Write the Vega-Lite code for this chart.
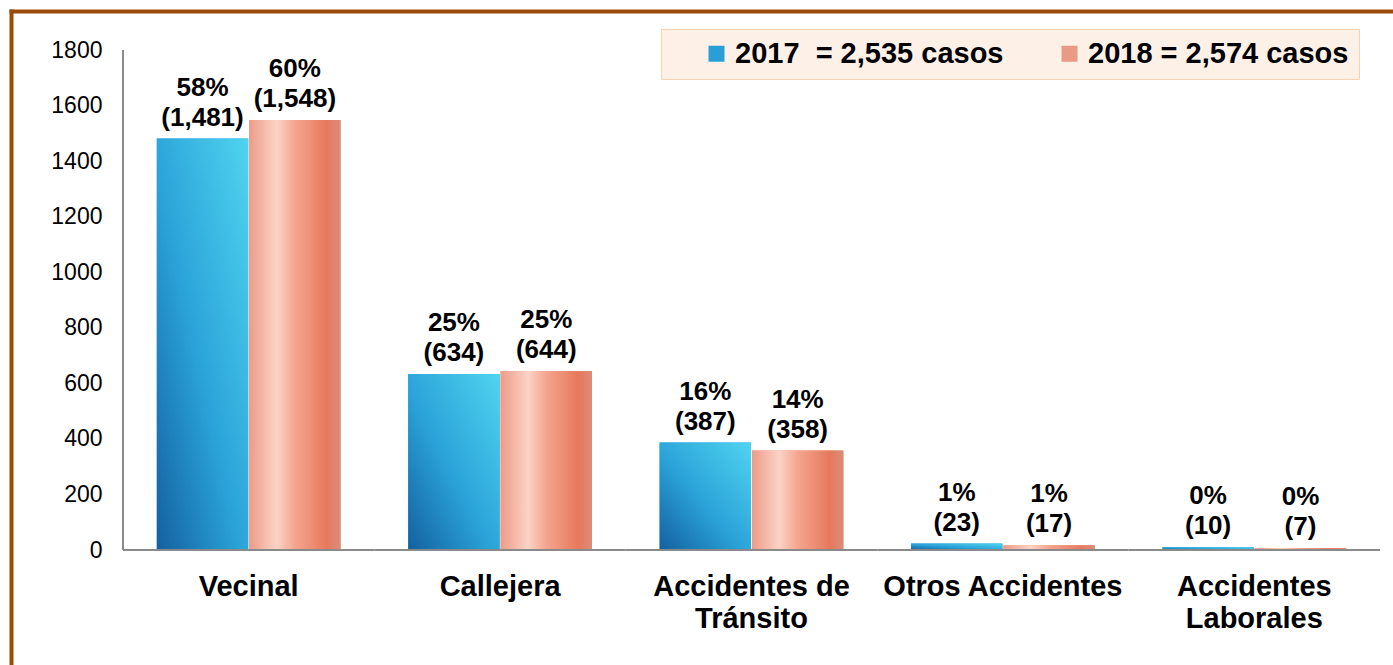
{
  "$schema": "https://vega.github.io/schema/vega-lite/v6.json",
  "width": 1382,
  "height": 654,
  "autosize": {"type": "none"},
  "padding": {"left": 11, "top": 11, "right": 0, "bottom": 0},
  "background": "white",
  "config": {"view": {"stroke": null}, "font": "Liberation Sans"},
  "data": {"values": [
    {"cat": "Vecinal", "year": "2017", "value": 1481, "label": "58%\n(1,481)"},
    {"cat": "Vecinal", "year": "2018", "value": 1548, "label": "60%\n(1,548)"},
    {"cat": "Callejera", "year": "2017", "value": 634, "label": "25%\n(634)"},
    {"cat": "Callejera", "year": "2018", "value": 644, "label": "25%\n(644)"},
    {"cat": "Accidentes de Tránsito", "year": "2017", "value": 387, "label": "16%\n(387)"},
    {"cat": "Accidentes de Tránsito", "year": "2018", "value": 358, "label": "14%\n(358)"},
    {"cat": "Otros Accidentes", "year": "2017", "value": 23, "label": "1%\n(23)"},
    {"cat": "Otros Accidentes", "year": "2018", "value": 17, "label": "1%\n(17)"},
    {"cat": "Accidentes Laborales", "year": "2017", "value": 10, "label": "0%\n(10)"},
    {"cat": "Accidentes Laborales", "year": "2018", "value": 7, "label": "0%\n(7)"}
  ]},
  "layer": [
    {
      "mark": {"type": "bar"},
      "encoding": {
        "x": {"field": "cat", "type": "nominal", "sort": ["Vecinal", "Callejera", "Accidentes de Tránsito", "Otros Accidentes", "Accidentes Laborales"],
              "scale": {"paddingInner": 0, "paddingOuter": 0.2486, "align": 0.896},
              "axis": {"orient": "bottom", "offset": -115, "domain": false, "ticks": false, "grid": false, "title": null, "labelAngle": 0,
                       "labelFont": "Liberation Sans", "labelFontSize": 29, "labelFontWeight": "bold", "labelColor": "#000000", "labelPadding": 22, "labelLineHeight": 32, "labelLimit": 400,
                       "labelExpr": "datum.label == 'Accidentes de Tránsito' ? ['Accidentes de', 'Tránsito'] : datum.label == 'Accidentes Laborales' ? ['Accidentes', 'Laborales'] : datum.label"}},
        "xOffset": {"field": "year", "type": "nominal", "scale": {"domain": ["2017", "2018"], "paddingInner": 0.01, "paddingOuter": 0.366}},
        "y": {"field": "value", "type": "quantitative", "scale": {"domain": [-414, 1940.4], "nice": false, "zero": false},
              "axis": {"orient": "left", "offset": -112, "values": [0, 200, 400, 600, 800, 1000, 1200, 1400, 1600, 1800], "format": "d", "domain": false, "ticks": false, "grid": false, "title": null,
                       "labelFont": "Liberation Sans", "labelFontSize": 23, "labelColor": "#000000", "labelPadding": 21}},
        "y2": {"datum": 0},
        "color": {"field": "year", "type": "nominal", "scale": {"domain": ["2017", "2018"], "range": ["#2a9fd6", "#e99a85"]},
                  "legend": {"orient": "none", "legendX": 650, "legendY": 18, "direction": "horizontal", "title": null,
                             "fillColor": "#fdf1e7", "strokeColor": "#f8d2b4", "padding": 10,
                             "symbolType": "square", "symbolSize": 256, "symbolOffset": 31, "symbolStrokeWidth": 0,
                             "labelOffset": 4, "columnPadding": 20, "labelFont": "Liberation Sans", "labelFontSize": 29, "labelFontWeight": "bold", "labelColor": "#000000", "labelLimit": 500,
                             "labelExpr": "datum.label == '2017' ? '2017\u00a0 = 2,535 casos' : '2018 = 2,574 casos'"}}
      }
    },
    {
      "transform": [{"filter": "datum.year == '2017'"}],
      "mark": {"type": "bar", "color": {"gradient": "linear", "x1": 0, "y1": 1, "x2": 1, "y2": 0,
        "stops": [{"offset": 0, "color": "#14609f"}, {"offset": 0.45, "color": "#2aa2d8"}, {"offset": 1, "color": "#50d4f0"}]}},
      "encoding": {
        "x": {"field": "cat", "type": "nominal", "sort": ["Vecinal", "Callejera", "Accidentes de Tránsito", "Otros Accidentes", "Accidentes Laborales"], "axis": null},
        "xOffset": {"field": "year", "type": "nominal"},
        "y": {"field": "value", "type": "quantitative", "axis": null},
        "y2": {"datum": 0}
      }
    },
    {
      "transform": [{"filter": "datum.year == '2018'"}],
      "mark": {"type": "bar", "color": {"gradient": "linear", "x1": 0, "y1": 0, "x2": 1, "y2": 0,
        "stops": [{"offset": 0, "color": "#ec9c88"}, {"offset": 0.3, "color": "#fbd3c6"}, {"offset": 0.5, "color": "#f4a58f"}, {"offset": 0.85, "color": "#e6795d"}, {"offset": 1, "color": "#dc8c78"}]}},
      "encoding": {
        "x": {"field": "cat", "type": "nominal", "sort": ["Vecinal", "Callejera", "Accidentes de Tránsito", "Otros Accidentes", "Accidentes Laborales"], "axis": null},
        "xOffset": {"field": "year", "type": "nominal"},
        "y": {"field": "value", "type": "quantitative", "axis": null},
        "y2": {"datum": 0}
      }
    },
    {
      "mark": {"type": "text", "baseline": "bottom", "align": "center", "dy": -38, "fontSize": 26, "fontWeight": "bold", "lineHeight": 30, "lineBreak": "\n", "color": "#000000", "font": "Liberation Sans"},
      "encoding": {
        "x": {"field": "cat", "type": "nominal", "sort": ["Vecinal", "Callejera", "Accidentes de Tránsito", "Otros Accidentes", "Accidentes Laborales"],
              "axis": {"orient": "top", "offset": 0, "labels": false, "ticks": false, "grid": false, "title": null, "domain": true, "domainColor": "#9c4a0a", "domainWidth": 4, "domainCap": "square"}},
        "xOffset": {"field": "year", "type": "nominal"},
        "y": {"field": "value", "type": "quantitative",
              "axis": {"orient": "left", "offset": 0, "labels": false, "ticks": false, "grid": false, "title": null, "domain": true, "domainColor": "#9c4a0a", "domainWidth": 4, "domainCap": "square"}},
        "text": {"field": "label"}
      }
    },
    {
      "transform": [{"filter": "datum.year == '2017'"}],
      "mark": {"type": "rule", "color": "#8a8a8a", "strokeWidth": 2},
      "encoding": {
        "x": {"field": "cat", "type": "nominal", "sort": ["Vecinal", "Callejera", "Accidentes de Tránsito", "Otros Accidentes", "Accidentes Laborales"], "bandPosition": 0, "axis": null},
        "x2": {"field": "cat", "bandPosition": 1},
        "y": {"datum": 0, "type": "quantitative", "axis": null}
      }
    },
    {
      "transform": [{"filter": "datum.year == '2017' && datum.cat == 'Vecinal'"}],
      "mark": {"type": "rule", "color": "#8a8a8a", "strokeWidth": 2},
      "encoding": {
        "x": {"field": "cat", "type": "nominal", "sort": ["Vecinal", "Callejera", "Accidentes de Tránsito", "Otros Accidentes", "Accidentes Laborales"], "bandPosition": 0, "axis": null},
        "y": {"datum": 0, "type": "quantitative", "axis": null},
        "y2": {"datum": 1800}
      }
    }
  ],
  "resolve": {"axis": {"x": "independent", "y": "independent"}}
}
